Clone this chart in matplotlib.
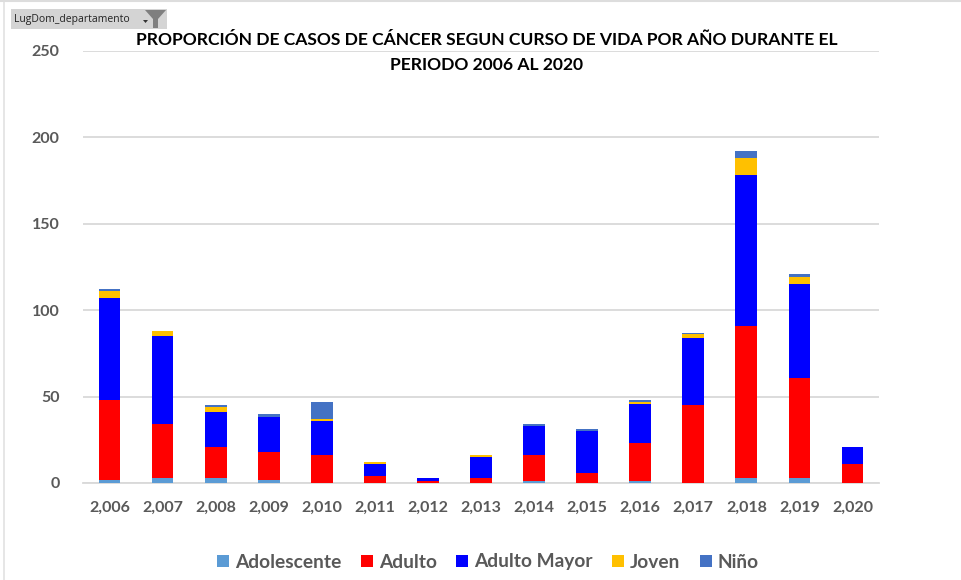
"""
Proporcion de casos de cancer por curso de vida - stacked bars, Excel pivot look.
"""
import matplotlib
matplotlib.use("Agg")
import matplotlib.pyplot as plt
from matplotlib.patches import Rectangle, Polygon
import numpy as np

# ── data ─────────────────────────────────────────────────────────────────────
years = ["2,006", "2,007", "2,008", "2,009", "2,010", "2,011", "2,012", "2,013",
         "2,014", "2,015", "2,016", "2,017", "2,018", "2,019", "2,020"]
adolescente = [2, 3, 3, 2, 0, 0, 0, 0, 1, 0, 1, 0, 3, 3, 0]
adulto      = [46, 31, 18, 16, 16, 4, 1, 3, 15, 6, 22, 45, 88, 58, 11]
adulto_may  = [59, 51, 20, 20, 20, 7, 2, 12, 17, 24, 23, 39, 87, 54, 10]
joven       = [4, 3, 3, 0, 1, 1, 0, 1, 0, 0, 1, 2, 10, 4, 0]
nino        = [1, 0, 1, 2, 10, 0, 0, 0, 1, 1, 1, 1, 4, 2, 0]

series_names = ["Adolescente", "Adulto", "Adulto Mayor", "Joven", "Niño"]
series_vals  = [adolescente, adulto, adulto_may, joven, nino]
y_ticks = [0, 50, 100, 150, 200, 250]

title = "PROPORCIÓN DE CASOS DE CÁNCER SEGUN CURSO DE VIDA POR AÑO DURANTE EL\nPERIODO 2006 AL 2020"

# ── style ────────────────────────────────────────────────────────────────────
COLORS  = ["#5B9BD5", "#FF0000", "#0000FF", "#FFC000", "#4472C4"]
C_GRID  = "#D9D9D9"
C_TEXT  = "#595959"
FONT    = ["Lato", "DejaVu Sans"]
W, H = 961, 580

plt.rcParams["font.family"] = FONT
fig = plt.figure(figsize=(W / 100, H / 100), dpi=100)
fig.patch.set_facecolor("white")

# chart area in pixels: x 83..879, y 51..483
ax = fig.add_axes([83 / W, 1 - 483 / H, (879 - 83) / W, (483 - 51) / H])
ax.set_facecolor("none")

x = np.arange(len(years))
bottom = np.zeros(len(years))
for name, vals, col in zip(series_names, series_vals, COLORS):
    ax.bar(x, vals, width=0.41, bottom=bottom, color=col, label=name, zorder=3)
    bottom += np.array(vals)

ax.set_xlim(-0.5, len(years) - 0.5)
ax.set_ylim(0, 250)
ax.set_yticks(y_ticks)
ax.set_xticks(x)
ax.set_xticklabels(years)
ax.grid(axis="y", color=C_GRID, lw=1.3, zorder=0)
ax.tick_params(length=0)
ax.tick_params(axis="x", pad=13, labelsize=11.5, labelcolor=C_TEXT)
ax.tick_params(axis="y", pad=17, labelsize=11.5, labelcolor=C_TEXT)
for lab in ax.get_xticklabels() + ax.get_yticklabels():
    lab.set_fontweight("bold")
for s in ["top", "left", "right"]:
    ax.spines[s].set_visible(False)
ax.spines["bottom"].set_color(C_GRID)
ax.spines["bottom"].set_linewidth(1.3)

leg = fig.legend(loc="center", bbox_to_anchor=(488 / W, 1 - 562 / H), ncol=5,
                 frameon=False, handlelength=0.62, handleheight=0.62,
                 handletextpad=0.33, columnspacing=1.0, labelcolor=C_TEXT,
                 prop={"family": FONT, "weight": "bold", "size": 13.8})

# ── pixel overlay: title, pivot filter button, window border ─────────────────
ov = fig.add_axes([0, 0, 1, 1], zorder=5)
ov.set_xlim(0, W)
ov.set_ylim(H, 0)
ov.axis("off")

ov.text(487, 52.5, title, ha="center", va="center", fontsize=12.6,
        fontweight="bold", color="black", linespacing=1.72)

ov.add_patch(Rectangle((11, 9), 156, 20, facecolor="#D4D4D4", edgecolor="none"))
ov.text(14, 19.5, "LugDom_departamento", ha="left", va="center", fontsize=7.5,
        color="#222222", family=["Open Sans", "DejaVu Sans"])
ov.add_patch(Polygon([(145, 10), (166, 10), (158, 19), (158, 28), (153, 28), (153, 19)],
                     closed=True, facecolor="#7F7F7F", edgecolor="none"))
ov.add_patch(Polygon([(143, 20), (148, 20), (145.5, 23)], closed=True,
                     facecolor="#333333", edgecolor="none"))

ov.plot([4, 4], [0, H], color="#E2E2E2", lw=1.2)
ov.plot([0, W], [0.8, 0.8], color="#DDDDDD", lw=1.5)

plt.savefig("out.png", dpi=100, facecolor="white")
